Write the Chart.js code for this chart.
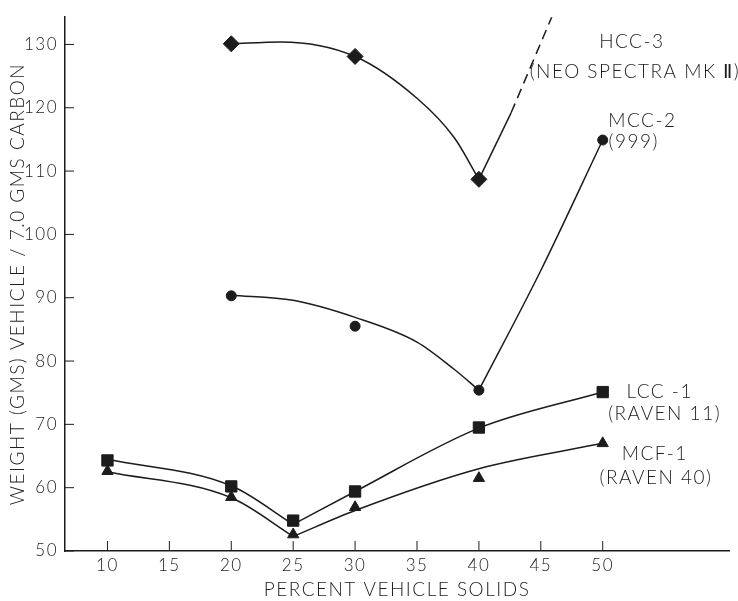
<!DOCTYPE html>
<html>
<head>
<meta charset="utf-8">
<script src="https://cdn.jsdelivr.net/npm/chart.js@4/dist/chart.umd.min.js"></script>
<style>
  body { margin: 0; background: #fff; }
  #wrap { width: 738px; height: 601px; position: relative; }
</style>
</head>
<body>
<div id="wrap"><canvas id="chart"></canvas></div>
<script>
// axis ticks
const xTicks = [10, 15, 20, 25, 30, 35, 40, 45, 50];
const yTicks = [50, 60, 70, 80, 90, 100, 110, 120, 130];

// measured points
const hccX = [20, 30, 40];
const hccY = [130.1, 128.1, 108.7];
const mccX = [20, 30, 40, 50];
const mccY = [90.3, 85.5, 75.4, 114.9];
const lccX = [10, 20, 25, 30, 40, 50];
const lccY = [64.3, 60.2, 54.8, 59.4, 69.5, 75.1];
const mcfX = [10, 20, 25, 30, 40, 50];
const mcfY = [62.6, 58.5, 52.6, 56.9, 61.5, 67.0];

// drawn curves
const hccCurveX = [20, 24, 30, 35, 38, 40];
const hccCurveY = [130.1, 130.4, 128.1, 121.5, 115.3, 108.7];
const hccTailX = [40, 42.6, 45.9];
const hccTailY = [108.7, 119.2, 134.4];
const mccLeftX = [20, 25, 30, 35, 38, 40];
const mccLeftY = [90.4, 89.6, 86.9, 83.0, 78.7, 75.4];
const mccRightX = [40, 45, 50];
const mccRightY = [75.4, 94.3, 114.9];
const lccLeftX = [10, 20, 25];
const lccLeftY = [64.5, 60.3, 54.2];
const lccRightX = [25, 30, 40, 50];
const lccRightY = [54.2, 59.4, 69.4, 75.1];
const mcfLeftX = [10, 20, 25];
const mcfLeftY = [62.5, 58.4, 52.3];
const mcfRightX = [25, 30, 40, 50];
const mcfRightY = [52.3, 56.4, 63.0, 67.0];

// series labels (placed in data units)
const labels = [
  { text: 'HCC-3', x: 52.35, y: 130.4 },
  { text: '(NEO SPECTRA MK Ⅱ)', x: 52.6, y: 125.7 },
  { text: 'MCC-2', x: 53.2, y: 118.0 },
  { text: '(999)', x: 52.5, y: 114.6 },
  { text: 'LCC -1', x: 54.6, y: 75.2 },
  { text: '(RAVEN 11)', x: 55.0, y: 71.6 },
  { text: 'MCF-1', x: 54.2, y: 65.3 },
  { text: '(RAVEN 40)', x: 54.3, y: 61.6 },
];

const INK = '#1c1c1c';
const FONT = 'Lato, "Open Sans", sans-serif';

const pts = (xs, ys) => xs.map((x, i) => ({ x, y: ys[i] }));

function curve(xs, ys, extra) {
  return Object.assign({
    type: 'line',
    data: pts(xs, ys),
    borderColor: INK,
    borderWidth: 1.5,
    pointRadius: 0,
    cubicInterpolationMode: 'monotone',
    fill: false,
  }, extra || {});
}

function marks(xs, ys, style, r) {
  return {
    type: 'scatter',
    data: pts(xs, ys),
    pointStyle: style,
    pointRadius: r,
    backgroundColor: INK,
    borderColor: INK,
    borderWidth: 1,
  };
}

const innerTicks = {
  id: 'innerTicks',
  beforeDraw(chart) {
    chart.ctx.letterSpacing = '1.5px';
  },
  afterDatasetsDraw(chart) {
    const { ctx, chartArea: a, scales: { x, y } } = chart;
    ctx.save();
    ctx.strokeStyle = INK;
    ctx.lineWidth = 1;
    ctx.beginPath();
    yTicks.forEach(v => {
      const py = y.getPixelForValue(v);
      ctx.moveTo(a.left, py);
      ctx.lineTo(a.left + 9, py);
    });
    xTicks.forEach(v => {
      const px = x.getPixelForValue(v);
      ctx.moveTo(px, a.bottom);
      ctx.lineTo(px, a.bottom - 10);
    });
    ctx.stroke();

    ctx.fillStyle = INK;
    ctx.font = '300 19px ' + FONT;
    ctx.textAlign = 'center';
    ctx.textBaseline = 'middle';
    labels.forEach(l => {
      ctx.fillText(l.text, x.getPixelForValue(l.x), y.getPixelForValue(l.y));
    });
    ctx.restore();
  }
};

new Chart(document.getElementById('chart'), {
  data: {
    datasets: [
      curve(hccCurveX, hccCurveY),
      curve(hccTailX, hccTailY, {
        cubicInterpolationMode: 'default',
        tension: 0,
        segment: { borderDash: c => c.p0DataIndex >= 1 ? [10, 6] : undefined },
      }),
      curve(mccLeftX, mccLeftY),
      curve(mccRightX, mccRightY),
      curve(lccLeftX, lccLeftY),
      curve(lccRightX, lccRightY),
      curve(mcfLeftX, mcfLeftY),
      curve(mcfRightX, mcfRightY),
      marks(hccX, hccY, 'rectRot', 8),
      marks(mccX, mccY, 'circle', 5),
      marks(lccX, lccY, 'rect', 8),
      marks(mcfX, mcfY, 'triangle', 6.5),
    ]
  },
  options: {
    responsive: true,
    maintainAspectRatio: false,
    animation: false,
    layout: { padding: { top: 7, right: 5, left: 0, bottom: 0 } },
    plugins: { legend: { display: false }, tooltip: { enabled: false } },
    scales: {
      x: {
        type: 'linear',
        min: 6.57,
        max: 60.2,
        afterBuildTicks: s => { s.ticks = xTicks.map(v => ({ value: v })); },
        afterFit: s => { s.height = 50; },
        grid: { display: true, drawOnChartArea: false, drawTicks: false },
        border: { display: true, color: INK, width: 1.5 },
        ticks: { color: INK, padding: 4, font: { family: FONT, size: 17, weight: '300' } },
        title: {
          display: true,
          text: 'PERCENT VEHICLE SOLIDS',
          color: INK,
          padding: { top: 0, bottom: 0 },
          font: { family: FONT, size: 19, weight: '300' }
        }
      },
      y: {
        type: 'linear',
        min: 50,
        max: 134.3,
        afterBuildTicks: s => { s.ticks = yTicks.map(v => ({ value: v })); },
        afterFit: s => { s.width = 65; },
        grid: { display: true, drawOnChartArea: false, drawTicks: false },
        border: { display: true, color: INK, width: 1.5 },
        ticks: { color: INK, padding: 7, font: { family: FONT, size: 17, weight: '300' } },
        title: {
          display: true,
          text: 'WEIGHT (GMS) VEHICLE / 7.0 GMS CARBON',
          color: INK,
          align: 'center',
          padding: { top: 6, bottom: 0 },
          font: { family: FONT, size: 19, weight: '300' }
        }
      }
    }
  },
  plugins: [innerTicks]
});
</script>
</body>
</html>
